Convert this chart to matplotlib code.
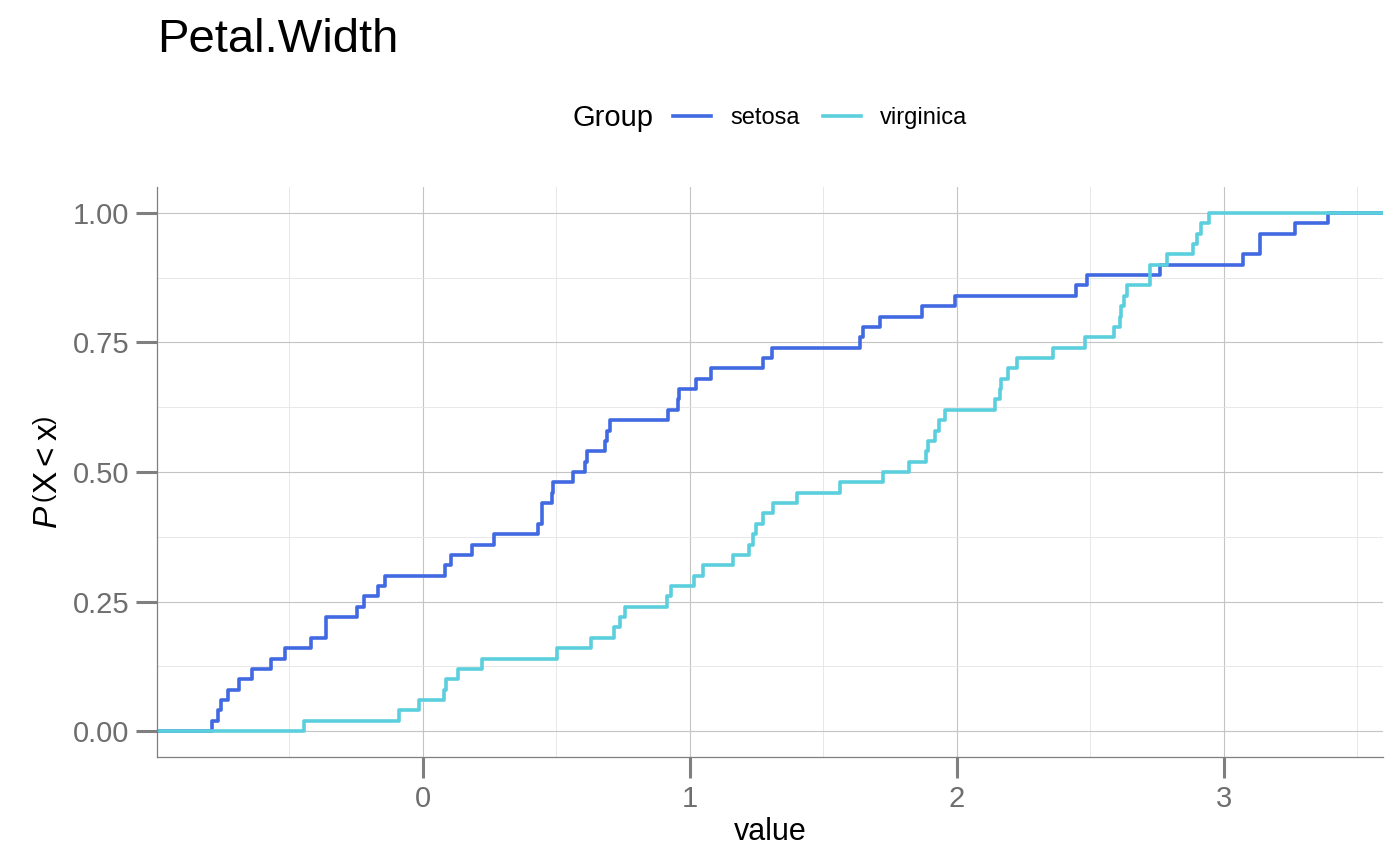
import matplotlib
matplotlib.use("Agg")
import matplotlib.pyplot as plt
import numpy as np
from matplotlib.offsetbox import HPacker

plt.rcParams['font.family'] = ['Liberation Sans', 'DejaVu Sans']
plt.rcParams['mathtext.fontset'] = 'custom'
plt.rcParams['mathtext.rm'] = 'Liberation Sans'
plt.rcParams['mathtext.it'] = 'Liberation Sans:italic'

setosa = [-0.791, -0.767, -0.758, -0.729, -0.688, -0.640, -0.570, -0.517, -0.419,
          -0.364, -0.364, -0.246, -0.220, -0.170, -0.142, 0.081, 0.107, 0.182,
          0.267, 0.432, 0.445, 0.445, 0.482, 0.486, 0.563, 0.607, 0.613, 0.682,
          0.688, 0.700, 0.918, 0.954, 0.960, 1.022, 1.079, 1.275, 1.306, 1.637,
          1.649, 1.712, 1.871, 1.993, 2.446, 2.487, 2.762, 3.070, 3.135, 3.135,
          3.266, 3.391]
virginica = [-0.445, -0.090, -0.014, 0.080, 0.085, 0.130, 0.222, 0.501, 0.629,
             0.716, 0.740, 0.757, 0.913, 0.931, 1.016, 1.050, 1.162, 1.221, 1.235,
             1.247, 1.275, 1.310, 1.400, 1.562, 1.724, 1.820, 1.883, 1.893, 1.918,
             1.934, 1.957, 2.142, 2.161, 2.165, 2.191, 2.227, 2.361, 2.479, 2.589,
             2.610, 2.614, 2.627, 2.639, 2.723, 2.723, 2.788, 2.885, 2.898, 2.913,
             2.946]
groups = ['setosa', 'virginica']
colors = {'setosa': '#4169E1', 'virginica': '#5BCFDD'}
series = {'setosa': setosa, 'virginica': virginica}

x_ticks = [0, 1, 2, 3]
y_ticks = [0.0, 0.25, 0.5, 0.75, 1.0]
y_ticklabels = ['0.00', '0.25', '0.50', '0.75', '1.00']

XLIM = (-0.996, 3.596)
YLIM = (-0.05, 1.05)

fig = plt.figure(figsize=(14, 8.66), dpi=100)
ax = fig.add_axes([157 / 1400, (866 - 757) / 866, (1383 - 157) / 1400, (757 - 187) / 866])

gray = '#7F7F7F'

for g in groups:
    vals = np.sort(np.array(series[g]))
    n = len(vals)
    xs = np.concatenate([[XLIM[0] - 1], vals, [XLIM[1] + 1]])
    ys = np.concatenate([[0.0], np.arange(1, n + 1) / n, [1.0]])
    ax.step(xs, ys, where='post', color=colors[g], linewidth=2.6, label=g)

ax.set_xlim(*XLIM)
ax.set_ylim(*YLIM)

ax.set_xticks(x_ticks)
ax.set_xticks([-0.5, 0.5, 1.5, 2.5, 3.5], minor=True)
ax.set_yticks(y_ticks)
ax.set_yticklabels(y_ticklabels)
ax.set_yticks([0.125, 0.375, 0.625, 0.875], minor=True)

ax.grid(True, which='major', color='#C4C4C4', linewidth=0.8)
ax.grid(True, which='minor', color='#E4E4E4', linewidth=0.6)
ax.set_axisbelow(True)

for s in ['top', 'right']:
    ax.spines[s].set_visible(False)
for s in ['left', 'bottom']:
    ax.spines[s].set_color(gray)
    ax.spines[s].set_linewidth(0.9)

ax.tick_params(which='major', length=15, width=2.2, color=gray, labelcolor='#6E6E6E',
               labelsize=21, pad=5)
ax.tick_params(which='minor', length=0)

ax.set_xlabel('value', fontsize=22, color='black', labelpad=3)
ax.set_ylabel(r'$\mathit{P}\,\left(\mathrm{X} < \mathrm{x}\right)$', fontsize=24,
              color='black', labelpad=6)

fig.text(157 / 1400, 1 - 52 / 866, 'Petal.Width', fontsize=34, color='black',
         ha='left', va='baseline')

leg = fig.legend(loc='center', bbox_to_anchor=(770 / 1400, 1 - 118 / 866), ncol=2,
                 frameon=False, title='Group', fontsize=17, title_fontsize=21,
                 handlelength=1.6, handletextpad=0.8, columnspacing=1.0)
# title on the left of the keys
title_box = leg._legend_title_box
handle_box = leg._legend_handle_box
leg._legend_box._children = [HPacker(pad=0, sep=14, align='center',
                                     children=[title_box, handle_box])]

fig.savefig('out.png', dpi=100)
